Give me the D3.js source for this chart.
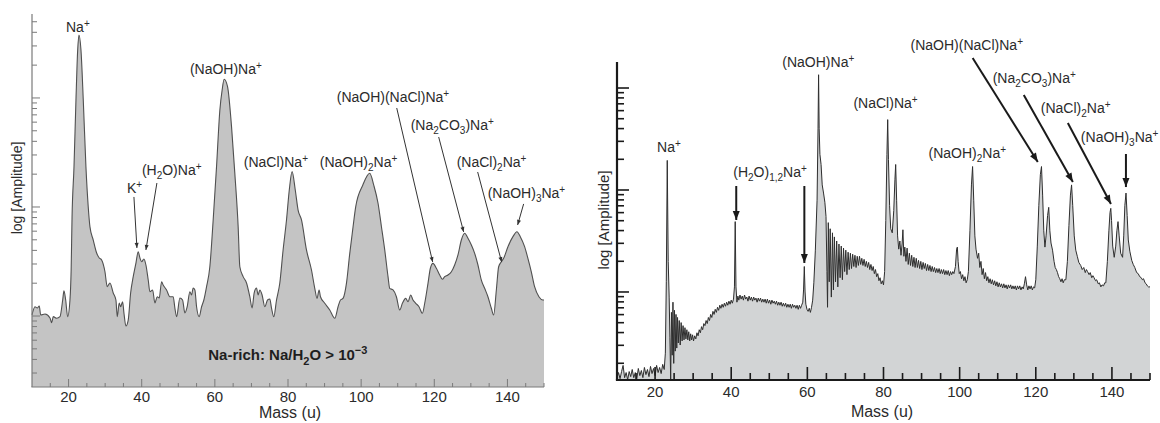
<!DOCTYPE html>
<html><head><meta charset="utf-8">
<script src="https://cdn.jsdelivr.net/npm/d3@7"></script>
<style>
body{margin:0;background:#fff}
svg{display:block}
text{font-family:"Liberation Sans",Arial,Helvetica,sans-serif}
</style></head>
<body><svg id="c" width="1160" height="423"></svg>
<script>
// ---------- DATA ----------
// Mass range (u) and log10 amplitude range shown on each panel
const massDomain = [10, 150];
const leftLogDomain = [-0.651, 2.77];
const rightLogDomain = [-0.863, 2.255];
const xTickLabels = [20, 40, 60, 80, 100, 120, 140];

// Left panel: [mass (u), log10 amplitude]
const leftSpectrum = [
[10.0,0.01],[10.82,0.085],[11.45,0.073],[11.99,0.092],[12.38,0.009],[13.55,0.018],[14.92,-0.018],[15.38,-0.061],[15.82,-0.006],[16.75,-0.021],[17.65,-0.006],[18.39,0.147],[18.74,0.232],[19.21,0.147],[19.75,-0.006],[20.38,0.147],[20.7,0.42],[20.95,0.908],[21.48,1.367],[22.02,1.982],[22.49,2.44],[22.84,2.578],[23.39,2.44],[24.02,1.982],[24.75,1.367],[25.38,1.0],[25.85,0.817],[26.75,0.697],[27.68,0.578],[28.39,0.532],[29.04,0.514],[29.95,0.406],[30.57,0.269],[31.31,0.303],[32.21,0.211],[32.95,0.147],[33.31,-0.006],[33.85,0.119],[34.23,0.085],[34.78,0.131],[35.14,0.028],[35.68,-0.092],[36.31,-0.037],[36.97,0.211],[37.68,0.361],[38.42,0.486],[39.04,0.59],[39.51,0.532],[39.97,0.498],[40.6,0.523],[41.15,0.468],[41.78,0.33],[42.24,0.223],[42.98,0.239],[43.61,0.119],[44.23,0.177],[44.78,0.165],[45.44,0.315],[45.87,0.284],[46.8,0.239],[47.7,0.177],[48.61,0.177],[49.07,0.073],[49.54,-0.006],[50.44,0.165],[51.17,0.147],[51.8,0.028],[52.43,0.085],[53.17,0.223],[53.63,0.193],[54.07,0.257],[54.54,0.239],[55.0,0.085],[55.71,-0.006],[56.37,0.085],[56.99,0.147],[57.73,0.269],[58.63,0.452],[59.54,0.881],[60.46,1.37],[61.37,1.89],[61.99,2.073],[62.54,2.172],[63.47,2.104],[64.56,1.737],[65.46,1.309],[66.37,0.82],[66.83,0.452],[67.73,0.361],[68.66,0.303],[69.56,0.177],[70.19,0.073],[70.74,0.211],[71.39,0.257],[71.83,0.193],[72.3,0.239],[72.92,0.193],[73.66,0.085],[74.4,0.147],[75.03,0.156],[75.49,0.073],[76.12,-0.006],[76.86,0.147],[77.76,0.303],[78.66,0.606],[79.59,0.881],[80.35,1.156],[81.12,1.324],[81.99,1.156],[82.76,0.972],[83.69,0.881],[85.05,0.606],[86.42,0.422],[87.32,0.254],[87.95,0.162],[88.5,0.239],[88.88,0.177],[90.05,0.117],[91.42,0.055],[92.79,-0.021],[93.69,0.085],[94.34,0.147],[95.05,0.162],[95.98,0.3],[96.89,0.575],[97.79,0.819],[98.52,1.003],[100.44,1.2],[102.35,1.309],[103.45,1.2],[104.62,1.034],[105.55,0.819],[106.45,0.606],[107.35,0.361],[107.81,0.254],[108.72,0.239],[109.64,0.177],[110.55,0.055],[111.28,0.117],[112.19,0.162],[112.81,0.131],[113.55,0.193],[114.18,0.147],[114.92,0.117],[115.82,0.085],[116.75,0.025],[117.38,0.117],[118.28,0.3],[118.93,0.438],[119.64,0.483],[120.57,0.438],[121.48,0.376],[122.21,0.337],[122.84,0.361],[123.74,0.376],[124.67,0.406],[125.57,0.468],[126.48,0.56],[127.4,0.697],[128.31,0.759],[129.21,0.713],[130.14,0.651],[131.04,0.575],[131.94,0.468],[132.87,0.33],[133.77,0.254],[134.67,0.177],[135.6,0.071],[136.23,0.009],[136.97,0.239],[137.6,0.452],[138.33,0.498],[138.96,0.529],[140.14,0.636],[141.5,0.728],[142.6,0.773],[143.52,0.728],[144.7,0.636],[145.6,0.529],[146.53,0.406],[147.43,0.269],[148.61,0.177],[149.7,0.147],[150.0,0.147]
];

// Right panel: [mass (u), log10 amplitude]
const rightSpectrum = [
[10.0,-0.84],[10.4,-0.79],[10.8,-0.85],[11.2,-0.78],[11.6,-0.72],[12.0,-0.84],[12.4,-0.79],[12.8,-0.86],[13.2,-0.78],[13.6,-0.83],[14.0,-0.76],[14.4,-0.84],[14.8,-0.79],[15.2,-0.85],[15.6,-0.75],[16.0,-0.82],[16.4,-0.77],[16.8,-0.84],[17.2,-0.74],[17.6,-0.81],[18.0,-0.76],[18.4,-0.83],[18.8,-0.73],[19.2,-0.80],[19.6,-0.75],[20.0,-0.82],[20.4,-0.72],[20.8,-0.79],[21.2,-0.74],[21.6,-0.80],[22.0,-0.71],[22.4,-0.76],[22.7,-0.6],[22.95,0.1],[23.2,1.29],[23.45,0.3],[23.7,-0.05],[23.9,-0.45],[24.1,-0.86],[24.3,-0.2],[24.5,-0.62],[24.7,-0.1],[24.9,-0.7],[25.1,-0.18],[25.3,-0.58],[25.5,-0.22],[25.7,-0.55],[25.9,-0.25],[26.1,-0.5],[26.35,-0.28],[26.6,-0.52],[26.85,-0.3],[27.1,-0.48],[27.35,-0.33],[27.6,-0.47],[27.85,-0.35],[28.1,-0.46],[28.35,-0.37],[28.6,-0.47],[28.85,-0.39],[29.1,-0.48],[29.35,-0.41],[29.6,-0.47],[29.85,-0.42],[30.1,-0.48],[30.4,-0.43],[30.7,-0.46],[31.0,-0.40],[31.3,-0.43],[31.6,-0.37],[31.9,-0.40],[32.2,-0.34],[32.5,-0.37],[32.8,-0.31],[33.1,-0.33],[33.4,-0.28],[33.7,-0.31],[34.0,-0.25],[34.3,-0.28],[34.6,-0.22],[34.9,-0.25],[35.2,-0.19],[35.5,-0.22],[35.8,-0.17],[36.1,-0.20],[36.4,-0.15],[36.7,-0.18],[37.0,-0.13],[37.3,-0.16],[37.6,-0.12],[37.9,-0.15],[38.2,-0.11],[38.5,-0.14],[38.8,-0.10],[39.1,-0.13],[39.4,-0.09],[39.7,-0.12],[40.0,-0.08],[40.3,-0.11],[40.6,-0.07],[40.85,0.05],[41.05,0.69],[41.25,0.05],[41.5,-0.1],[41.75,-0.04],[42.0,-0.08],[42.3,-0.03],[42.6,-0.07],[42.9,-0.04],[43.2,-0.08],[43.5,-0.03],[43.8,-0.07],[44.1,-0.05],[44.4,-0.09],[44.7,-0.04],[45.0,-0.08],[45.3,-0.05],[45.6,-0.09],[45.9,-0.05],[46.2,-0.08],[46.5,-0.06],[46.8,-0.10],[47.1,-0.06],[47.4,-0.09],[47.7,-0.06],[48.0,-0.10],[48.3,-0.07],[48.6,-0.10],[48.9,-0.07],[49.2,-0.11],[49.5,-0.07],[49.8,-0.11],[50.1,-0.08],[50.4,-0.12],[50.7,-0.08],[51.0,-0.11],[51.3,-0.09],[51.6,-0.12],[51.9,-0.09],[52.2,-0.13],[52.5,-0.10],[52.8,-0.13],[53.1,-0.10],[53.4,-0.14],[53.7,-0.11],[54.0,-0.14],[54.3,-0.11],[54.6,-0.15],[54.9,-0.12],[55.2,-0.15],[55.5,-0.12],[55.8,-0.16],[56.1,-0.12],[56.4,-0.15],[56.7,-0.13],[57.0,-0.16],[57.3,-0.13],[57.6,-0.17],[57.9,-0.13],[58.2,-0.16],[58.5,-0.13],[58.8,-0.10],[59.0,0.02],[59.2,0.25],[59.4,0.0],[59.6,-0.12],[59.9,-0.17],[60.2,-0.19],[60.5,-0.16],[60.8,-0.20],[61.1,-0.15],[61.4,-0.08],[61.7,0.09],[62.1,0.41],[62.55,0.9],[62.8,1.6],[62.95,2.13],[63.1,1.6],[63.3,1.35],[63.6,1.25],[63.9,1.05],[64.25,0.97],[64.6,0.88],[64.9,0.74],[65.15,0.2],[65.3,-0.15],[65.5,0.68],[65.75,0.1],[66.0,0.62],[66.3,-0.05],[66.6,0.58],[66.85,0.02],[67.1,0.54],[67.4,0.1],[67.7,0.5],[68.0,0.05],[68.3,0.47],[68.6,0.14],[68.9,0.45],[69.2,0.12],[69.5,0.43],[69.8,0.2],[70.1,0.41],[70.4,0.17],[70.7,0.39],[71.0,0.22],[71.3,0.38],[71.6,0.23],[71.9,0.37],[72.2,0.25],[72.5,0.36],[72.8,0.24],[73.1,0.35],[73.4,0.26],[73.7,0.35],[74.0,0.27],[74.3,0.33],[74.6,0.26],[74.9,0.32],[75.2,0.25],[75.5,0.30],[75.8,0.24],[76.1,0.29],[76.4,0.22],[76.7,0.27],[77.0,0.21],[77.3,0.25],[77.6,0.18],[77.9,0.22],[78.2,0.15],[78.5,0.18],[78.8,0.11],[79.1,0.14],[79.4,0.08],[79.7,0.11],[80.0,0.07],[80.3,0.2],[80.6,0.7],[80.9,1.35],[81.1,1.69],[81.3,1.3],[81.6,0.85],[81.9,0.62],[82.3,0.58],[82.7,0.8],[83.0,1.1],[83.2,1.25],[83.45,0.9],[83.7,0.55],[84.0,0.42],[84.3,0.5],[84.6,0.36],[84.9,0.48],[85.1,0.61],[85.35,0.35],[85.6,0.44],[85.9,0.3],[86.2,0.43],[86.5,0.27],[86.8,0.38],[87.1,0.26],[87.4,0.36],[87.7,0.25],[88.0,0.34],[88.3,0.24],[88.6,0.33],[88.9,0.24],[89.2,0.31],[89.5,0.23],[89.8,0.30],[90.1,0.22],[90.4,0.29],[90.7,0.23],[91.0,0.28],[91.3,0.21],[91.6,0.27],[91.9,0.21],[92.2,0.26],[92.5,0.20],[92.8,0.25],[93.1,0.20],[93.4,0.24],[93.7,0.19],[94.0,0.23],[94.3,0.19],[94.6,0.23],[94.9,0.18],[95.2,0.22],[95.5,0.18],[95.8,0.22],[96.1,0.17],[96.4,0.21],[96.7,0.17],[97.0,0.21],[97.3,0.16],[97.6,0.20],[97.9,0.17],[98.2,0.20],[98.5,0.18],[98.9,0.25],[99.2,0.42],[99.4,0.44],[99.6,0.3],[99.9,0.18],[100.2,0.2],[100.5,0.13],[100.8,0.17],[101.1,0.11],[101.4,0.15],[101.7,0.09],[102.0,0.12],[102.3,0.2],[102.7,0.6],[103.1,1.05],[103.4,1.23],[103.7,0.9],[104.0,0.55],[104.3,0.42],[104.7,0.33],[105.0,0.38],[105.3,0.24],[105.6,0.3],[105.9,0.17],[106.2,0.23],[106.5,0.13],[106.8,0.19],[107.1,0.11],[107.4,0.15],[107.7,0.09],[108.0,0.13],[108.3,0.08],[108.6,0.12],[108.9,0.07],[109.2,0.11],[109.5,0.06],[109.8,0.10],[110.1,0.05],[110.4,0.09],[110.7,0.05],[111.0,0.08],[111.3,0.04],[111.6,0.08],[111.9,0.04],[112.2,0.07],[112.5,0.03],[112.8,0.07],[113.1,0.04],[113.4,0.07],[113.7,0.03],[114.0,0.06],[114.3,0.03],[114.6,0.06],[114.9,0.02],[115.2,0.06],[115.5,0.03],[115.8,0.06],[116.1,0.02],[116.4,0.05],[116.7,0.03],[117.0,0.08],[117.3,0.15],[117.6,0.07],[117.9,0.02],[118.2,0.06],[118.5,0.03],[118.8,0.06],[119.1,0.02],[119.4,0.05],[119.7,0.04],[120.0,0.12],[120.4,0.45],[120.8,0.85],[121.2,1.15],[121.5,1.23],[121.8,0.95],[122.1,0.6],[122.4,0.44],[122.7,0.55],[123.1,0.75],[123.4,0.83],[123.7,0.6],[124.0,0.48],[124.4,0.41],[124.8,0.3],[125.1,0.24],[125.4,0.22],[125.7,0.19],[126.0,0.15],[126.3,0.13],[126.6,0.10],[126.9,0.13],[127.2,0.09],[127.5,0.12],[127.9,0.12],[128.3,0.3],[128.7,0.65],[129.1,0.95],[129.4,1.05],[129.7,0.85],[130.1,0.55],[130.5,0.41],[130.9,0.35],[131.3,0.29],[131.8,0.26],[132.2,0.22],[132.6,0.24],[133.0,0.19],[133.3,0.22],[133.6,0.20],[134.0,0.17],[134.3,0.19],[134.7,0.14],[135.0,0.16],[135.3,0.14],[135.7,0.11],[136.0,0.12],[136.4,0.08],[136.7,0.09],[137.1,0.05],[137.4,0.07],[137.8,0.06],[138.1,0.09],[138.4,0.09],[138.8,0.3],[139.2,0.6],[139.5,0.78],[139.7,0.82],[139.9,0.7],[140.2,0.45],[140.6,0.34],[141.0,0.45],[141.3,0.6],[141.6,0.69],[141.9,0.55],[142.3,0.38],[142.8,0.34],[143.1,0.55],[143.4,0.85],[143.7,0.97],[144.0,0.75],[144.3,0.51],[144.7,0.4],[145.2,0.31],[145.6,0.27],[146.0,0.24],[146.5,0.19],[146.9,0.18],[147.3,0.15],[147.7,0.14],[148.0,0.12],[148.3,0.13],[148.7,0.09],[149.0,0.08],[149.3,0.06],[149.6,0.05],[150.0,0.05]
];

// Annotations: label text, label anchor [mass, log amp]
const leftLabels = [
  {t:"Na^{+}", m:19.29, l:2.606},
  {t:"(NaOH)Na^{+}", m:53.17, l:2.22},
  {t:"K^{+}", m:35.96, l:1.128},
  {t:"(H_{2}O)Na^{+}", m:40.05, l:1.294},
  {t:"(NaCl)Na^{+}", m:67.92, l:1.367},
  {t:"(NaOH)_{2}Na^{+}", m:88.69, l:1.367},
  {t:"(NaOH)(NaCl)Na^{+}", m:93.33, l:1.963},
  {t:"(Na_{2}CO_{3})Na^{+}", m:113.55, l:1.706},
  {t:"(NaCl)_{2}Na^{+}", m:126.12, l:1.367},
  {t:"(NaOH)_{3}Na^{+}", m:134.59, l:1.083}
];
// leader lines [mass1, log1, mass2, log2] (arrow at second point)
const leftLeaders = [
  [37.87,1.092,38.69,0.624],
  [44.15,1.22,41.15,0.606],
  [109.73,1.908,119.56,0.495],
  [121.2,1.642,128.03,0.771],
  [131.86,1.321,138.42,0.495],
  [144.43,1.028,142.79,0.835]
];
const leftNote = {t:"Na-rich: Na/H_{2}O > 10^{−3}", m:79.95, l:-0.404};

const rightLabels = [
  {t:"Na^{+}", m:20.53, l:1.373},
  {t:"(H_{2}O)_{1,2}Na^{+}", m:40.53, l:1.127},
  {t:"(NaOH)Na^{+}", m:53.42, l:2.206},
  {t:"(NaCl)Na^{+}", m:72.11, l:1.804},
  {t:"(NaOH)_{2}Na^{+}", m:91.84, l:1.314},
  {t:"(NaOH)(NaCl)Na^{+}", m:87.11, l:2.373},
  {t:"(Na_{2}CO_{3})Na^{+}", m:108.68, l:2.049},
  {t:"(NaCl)_{2}Na^{+}", m:121.32, l:1.755},
  {t:"(NaOH)_{3}Na^{+}", m:131.84, l:1.471}
];
const rightArrows = [
  [41.32,1.039,41.32,0.706],
  [59.21,1.039,59.21,0.284],
  [103.42,2.294,120.53,1.275],
  [116.84,1.931,129.74,1.078],
  [128.42,1.657,139.74,0.863],
  [143.68,1.353,143.68,1.029]
];

// ---------- DRAWING ----------
const svg = d3.select("#c");

function richText(g, str, x, y, size, opts = {}) {
  const t = g.append("text").attr("x", x).attr("y", y)
    .attr("font-size", size).attr("fill", opts.fill || "#2b2b2b")
    .attr("font-weight", opts.weight || "normal")
    .attr("text-anchor", opts.anchor || "start");
  const parts = str.split(/(_\{[^}]*\}|\^\{[^}]*\})/).filter(s => s.length);
  let shift = 0;
  const small = Math.round(size * 0.72);
  parts.forEach(p => {
    let target = 0, txt = p, fs = size;
    if (p.startsWith("_{")) { target = size * 0.3; txt = p.slice(2, -1); fs = small; }
    else if (p.startsWith("^{")) { target = -size * 0.38; txt = p.slice(2, -1); fs = small; }
    t.append("tspan").attr("dy", target - shift).attr("font-size", fs).text(txt);
    shift = target;
  });
  return t;
}

function arrowHead(g, x1, y1, x2, y2, len, hw, color) {
  const a = Math.atan2(y2 - y1, x2 - x1);
  const bx = x2 - len * Math.cos(a), by = y2 - len * Math.sin(a);
  const px = -Math.sin(a) * hw, py = Math.cos(a) * hw;
  g.append("path")
    .attr("d", `M${x2},${y2}L${bx + px},${by + py}L${bx - px},${by - py}Z`)
    .attr("fill", color);
}

function panel(cfg) {
  const g = svg.append("g");
  const x = d3.scaleLinear().domain(massDomain).range([cfg.x0, cfg.x1]);
  const y = d3.scaleLinear().domain(cfg.logDomain).range([cfg.yb, cfg.yt]);
  const yLog = d3.scaleLog().domain(cfg.logDomain.map(v => Math.pow(10, v))).range([cfg.yb, cfg.yt]);

  const area = d3.area().x(d => x(d[0])).y0(cfg.yb).y1(d => y(d[1])).curve(cfg.curve);
  const line = d3.line().x(d => x(d[0])).y(d => y(d[1])).curve(cfg.curve);
  g.append("path").datum(cfg.data).attr("d", area).attr("fill", cfg.fill);
  g.append("path").datum(cfg.data).attr("d", line).attr("fill", "none")
    .attr("stroke", cfg.stroke).attr("stroke-width", cfg.lineWidth).attr("stroke-linejoin", "round");

  // y axis
  g.append("line").attr("x1", cfg.x0).attr("x2", cfg.x0).attr("y1", cfg.yt).attr("y2", cfg.yb)
    .attr("stroke", cfg.axisColor).attr("stroke-width", cfg.axisWidth);
  const yt = yLog.ticks().filter(v => yLog(v) >= cfg.yt - 0.5 && yLog(v) <= cfg.yb);
  g.selectAll(null).data(yt).join("line")
    .attr("x1", cfg.x0).attr("y1", d => yLog(d)).attr("y2", d => yLog(d))
    .attr("x2", d => cfg.x0 + (Math.abs(Math.log10(d) - Math.round(Math.log10(d))) < 1e-6 ? cfg.yMajor : cfg.yMinor))
    .attr("stroke", cfg.axisColor).attr("stroke-width", cfg.tickWidth);

  // x axis
  g.append("line").attr("x1", cfg.x0 - cfg.axisWidth / 2).attr("x2", cfg.x1).attr("y1", cfg.yb).attr("y2", cfg.yb)
    .attr("stroke", cfg.axisColor).attr("stroke-width", cfg.axisWidth);
  const xt = x.ticks(28).filter(v => v > massDomain[0]);
  g.selectAll(null).data(xt).join("line")
    .attr("x1", d => x(d)).attr("x2", d => x(d)).attr("y1", cfg.yb)
    .attr("y2", d => cfg.yb - (d % 20 === 0 ? cfg.xMajor : cfg.xMinor))
    .attr("stroke", cfg.axisColor).attr("stroke-width", cfg.tickWidth);
  g.selectAll(null).data(xTickLabels).join("text")
    .attr("x", d => x(d)).attr("y", cfg.tickLabelY).attr("text-anchor", "middle")
    .attr("font-size", 15).attr("fill", "#2b2b2b").text(d => d);

  // titles
  g.append("text").attr("x", cfg.xTitleX).attr("y", cfg.xTitleY).attr("text-anchor", "middle")
    .attr("font-size", 16).attr("fill", "#2b2b2b").text("Mass (u)");
  g.append("text").attr("transform", `translate(${cfg.yTitleX},${cfg.yTitleY}) rotate(-90)`)
    .attr("text-anchor", "middle").attr("dominant-baseline", "central")
    .attr("font-size", cfg.yTitleSize).attr("fill", "#2b2b2b").text("log [Amplitude]");

  cfg.labels.forEach(d => richText(g, d.t, x(d.m), y(d.l), 14));
  cfg.arrows.forEach(a => {
    const x1 = x(a[0]), y1 = y(a[1]), x2 = x(a[2]), y2 = y(a[3]);
    g.append("line").attr("x1", x1).attr("y1", y1).attr("x2", x2).attr("y2", y2)
      .attr("stroke", cfg.arrowColor).attr("stroke-width", cfg.arrowWidth);
    arrowHead(g, x1, y1, x2, y2, cfg.headLen, cfg.headW, cfg.arrowColor);
  });
  return {g, x, y};
}

const L = panel({
  x0: 32, x1: 544, yb: 387, yt: 14, logDomain: leftLogDomain, data: leftSpectrum,
  curve: d3.curveMonotoneX, fill: "#c4c4c4", stroke: "#505050", lineWidth: 1.1,
  axisColor: "#7a7a7a", axisWidth: 1.2, tickWidth: 1, yMajor: 8, yMinor: 5, xMajor: 8, xMinor: 4,
  tickLabelY: 402, xTitleX: 290, xTitleY: 418, yTitleX: 17, yTitleY: 188, yTitleSize: 14,
  labels: leftLabels, arrows: leftLeaders, arrowColor: "#333", arrowWidth: 1, headLen: 5, headW: 2
});
richText(L.g, leftNote.t, L.x(leftNote.m), L.y(leftNote.l), 15, {weight: "bold", anchor: "middle", fill: "#1e1e1e"});

panel({
  x0: 617, x1: 1150, yb: 380, yt: 62, logDomain: rightLogDomain, data: rightSpectrum,
  curve: d3.curveLinear, fill: "#d2d4d5", stroke: "#2e2e2e", lineWidth: 1,
  axisColor: "#1a1a1a", axisWidth: 2.2, tickWidth: 1.6, yMajor: 12, yMinor: 7, xMajor: 13, xMinor: 7,
  tickLabelY: 397, xTitleX: 882, xTitleY: 417, yTitleX: 603, yTitleY: 220, yTitleSize: 15,
  labels: rightLabels, arrows: rightArrows, arrowColor: "#1a1a1a", arrowWidth: 2, headLen: 9, headW: 3.5
});
</script>
</body></html>
